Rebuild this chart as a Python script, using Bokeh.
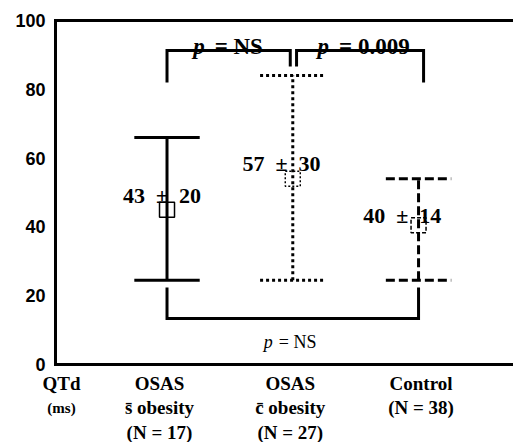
from bokeh.plotting import figure
from bokeh.models import Range1d, Label
from bokeh.core.properties import value
from bokeh.embed import file_html
from bokeh.resources import INLINE

# ---------------- data ----------------
groups = [1, 2, 3]
upper = [66, 84, 54]
lower = [24.5, 24.5, 24.5]
center = [45, 54, 40.5]
stat_labels = ["43\u2002\u00b1\u200220", "57\u2002\u00b1\u200230", "40\u2002\u00b1\u200214"]
cat_line1 = ["OSAS", "OSAS", "Control"]
cat_line2 = ["s\u0304 obesity", "c\u0304 obesity", "(N = 38)"]
cat_line3 = ["(N = 17)", "(N = 27)", ""]
axis_title = ["QTd", "(ms)"]
y_ticks = [0, 20, 40, 60, 80, 100]
y_tick_labels = ["0", "20", "40", "60", "80", "100"]
p_top_left = "= NS"
p_top_right = "= 0.009"
p_bottom = "= NS"

# ---------------- styles / layout ----------------
dashes = ["solid", "3 3.5", "9 4"]
sq_dashes = ["solid", "2 2", "4 2"]
cap_half = 0.26
label_dx = [-0.04, -0.09, -0.13]
label_dy = [4.1, 4.4, 2.8]
cat_dx = [-0.06, -0.02, 0.02]
SERIF = "Liberation Serif"
X_START, X_END = -0.324, 3.755
Y_START, Y_END = -22.67, 105.81
SPINE_X = 0.1133
TITLE_X = 0.161
TICK_LABEL_X = 0.0338

p = figure(width=513, height=442, x_range=Range1d(X_START, X_END), y_range=Range1d(Y_START, Y_END),
           output_backend="svg", toolbar_location=None,
           min_border_left=0, min_border_right=0, min_border_top=0, min_border_bottom=0)
p.xgrid.visible = False
p.ygrid.visible = False
p.xaxis.visible = False
p.yaxis.visible = False
p.outline_line_color = None
p.background_fill_color = "white"
p.border_fill_color = "white"

# frame lines (top, left, bottom)
p.line([X_END, SPINE_X, SPINE_X, X_END], [y_ticks[-1], y_ticks[-1], y_ticks[0], y_ticks[0]],
       line_width=3, line_color="black", line_join="miter")

# y tick labels
p.text(x=[TICK_LABEL_X] * len(y_ticks), y=y_ticks, text=y_tick_labels,
       text_font=value("Liberation Sans"), text_font_style="bold", text_font_size="18px",
       text_align="right", text_baseline="middle", text_color="black")

# error bars
for g, up, lo, c, d, sd in zip(groups, upper, lower, center, dashes, sq_dashes):
    p.segment(x0=[g, g - cap_half, g - cap_half], y0=[lo, up, lo],
              x1=[g, g + cap_half, g + cap_half], y1=[up, up, lo],
              line_width=3, line_color="black", line_dash=value(d), line_cap="butt")
    p.scatter([g], [c], marker="square", size=15, fill_color=None,
              line_color="black", line_width=1.5, line_dash=value(sd))

# mean +/- sd labels
p.text(x=[g + dx for g, dx in zip(groups, label_dx)],
       y=[c + dy for c, dy in zip(center, label_dy)],
       text=stat_labels, text_font=value(SERIF), text_font_style="bold",
       text_font_size="22px", text_align="center", text_baseline="middle",
       text_color="black")

# brackets
br_top, br_leg, br_notch = 91.3, 82.0, 86.6
g1, g2, g3 = groups
p.line([g1, g1, g2 - 0.02, g2 - 0.02], [br_leg, br_top, br_top, br_notch],
       line_width=3, line_color="black", line_join="miter")
p.line([g2 + 0.03, g2 + 0.03, g3 + 0.04, g3 + 0.04], [br_notch, br_top, br_top, br_leg],
       line_width=3, line_color="black", line_join="miter")
bb_line, bb_leg = 13.4, 22.4
p.line([g1, g1, g3, g3], [bb_leg, bb_line, bb_line, bb_leg],
       line_width=3, line_color="black", line_join="miter")

def pval(xc, y, rest, size, style_p, style_rest, p_off, r_off):
    p.add_layout(Label(x=xc, y=y, text="p", text_font=SERIF, text_font_style=style_p,
                       text_font_size=size, text_align="right", text_baseline="alphabetic",
                       x_offset=p_off, text_color="black"))
    p.add_layout(Label(x=xc, y=y, text=rest, text_font=SERIF, text_font_style=style_rest,
                       text_font_size=size, text_align="left", text_baseline="alphabetic",
                       x_offset=r_off, text_color="black"))

pval((g1 + g2 - 0.02) / 2, 92.4, p_top_left, "23px", "bold italic", "bold", -24, -14)
pval((g2 + 0.03 + g3 + 0.04) / 2, 92.4, p_top_right, "23px", "bold italic", "bold", -31, -21)
pval((g1 + g3) / 2, 6.4, p_bottom, "18px", "italic", "normal", -20, -14)

# category labels
line_y = [-5.5, -12.5, -19.8]
xs, ys, ts = [], [], []
for g, dx, l1, l2, l3 in zip(groups, cat_dx, cat_line1, cat_line2, cat_line3):
    for txt, yy in zip([l1, l2, l3], line_y):
        if txt:
            xs.append(g + dx); ys.append(yy); ts.append(txt)
xs.append(TITLE_X); ys.append(line_y[0]); ts.append(axis_title[0])
p.text(x=xs, y=ys, text=ts, text_font=value(SERIF), text_font_style="bold",
       text_font_size="19px", text_align="center", text_baseline="middle", text_color="black")
p.text(x=[TITLE_X], y=[line_y[1]], text=[axis_title[1]], text_font=value(SERIF),
       text_font_style="bold", text_font_size="15px", text_align="center",
       text_baseline="middle", text_color="black")

open("out.html", "w").write(file_html(p, INLINE))
